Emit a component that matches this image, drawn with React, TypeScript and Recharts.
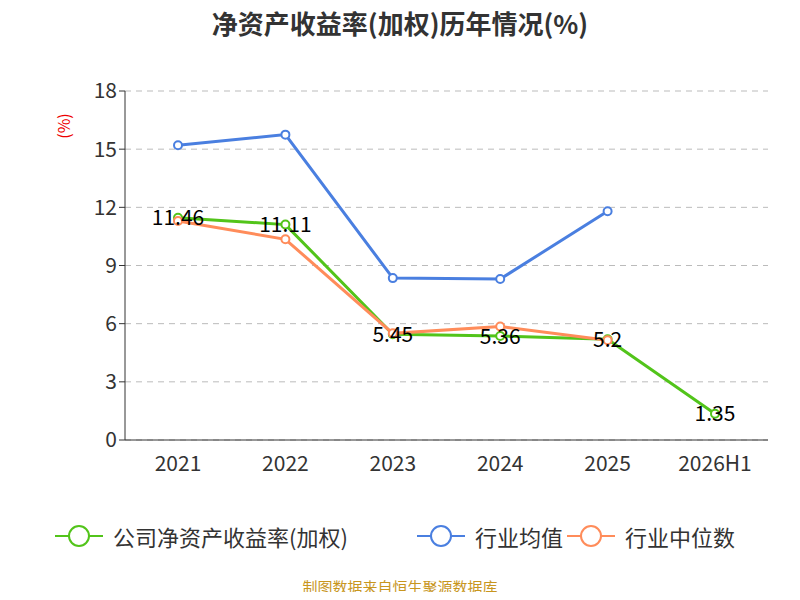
import { CartesianGrid, LabelList, Line, LineChart, XAxis, YAxis } from "recharts";

const years = ["2021", "2022", "2023", "2024", "2025", "2026H1"];
const company = [11.46, 11.11, 5.45, 5.36, 5.2, 1.35];
const industryAvg = [15.2, 15.75, 8.35, 8.3, 11.8, null];
const industryMedian = [11.3, 10.35, 5.5, 5.85, 5.15, null];
const yTicks = [0, 3, 6, 9, 12, 15, 18];

const data = years.map((year, i) => ({
  year,
  company: company[i],
  avg: industryAvg[i],
  median: industryMedian[i],
}));

const GREEN = "#52c41a";
const BLUE = "#4a7fe0";
const ORANGE = "#ff8c5a";
const FONT = "'Noto Sans CJK SC', 'Noto Sans', sans-serif";

function LegendItem({ color, label, left }: { color: string; label: string; left: number }) {
  return (
    <div style={{ position: "absolute", left, top: 520, display: "flex", alignItems: "center" }}>
      <svg width={48} height={30}>
        <line x1={0} y1={15} x2={48} y2={15} stroke={color} strokeWidth={2} />
        <circle cx={24} cy={15} r={10} fill="#fff" stroke={color} strokeWidth={2} />
      </svg>
      <span style={{ marginLeft: 10, fontSize: 22, color: "#333" }}>{label}</span>
    </div>
  );
}

export default function App() {
  return (
    <div style={{ position: "relative", width: 800, height: 600, margin: -8, fontFamily: FONT, background: "#fff", overflow: "hidden" }}>
      <div style={{ position: "absolute", top: 4, width: 800, textAlign: "center", fontSize: 26, fontWeight: "bold", color: "#333" }}>
        净资产收益率(加权)历年情况(%)
      </div>
      <div style={{ position: "absolute", left: 50, top: 114, transform: "rotate(-90deg)", color: "#e00", fontSize: 16 }}>(%)</div>
      <LineChart width={800} height={600} data={data} margin={{ top: 91, right: 32, left: 0, bottom: 130 }} style={{ fontFamily: FONT }}>
        <CartesianGrid vertical={false} stroke="#bbb" strokeDasharray="6 5" />
        <XAxis dataKey="year" tickLine={false} padding={{ left: 53, right: 53 }} axisLine={{ stroke: "#333" }} tick={{ fill: "#333", fontSize: 21 }} height={30} tickMargin={10} />
        <YAxis domain={[0, 18]} ticks={yTicks} width={125} axisLine={{ stroke: "#333" }} tickLine={{ stroke: "#333" }} tick={{ fill: "#333", fontSize: 21 }} />
        <Line dataKey="company" stroke={GREEN} strokeWidth={3} dot={{ r: 4, fill: "#fff", stroke: GREEN, strokeWidth: 2 }} isAnimationActive={false}>
          <LabelList dataKey="company" position="center" fill="#000" fontSize={21} dy={0} />
        </Line>
        <Line dataKey="avg" stroke={BLUE} strokeWidth={3} dot={{ r: 4, fill: "#fff", stroke: BLUE, strokeWidth: 2 }} isAnimationActive={false} />
        <Line dataKey="median" stroke={ORANGE} strokeWidth={3} dot={{ r: 4, fill: "#fff", stroke: ORANGE, strokeWidth: 2 }} isAnimationActive={false} />
      </LineChart>
      <LegendItem color={GREEN} label="公司净资产收益率(加权)" left={55} />
      <LegendItem color={BLUE} label="行业均值" left={417} />
      <LegendItem color={ORANGE} label="行业中位数" left={567} />
      <div style={{ position: "absolute", top: 576, width: 800, textAlign: "center", fontSize: 15, color: "#c8961e" }}>
        制图数据来自恒生聚源数据库
      </div>
    </div>
  );
}
